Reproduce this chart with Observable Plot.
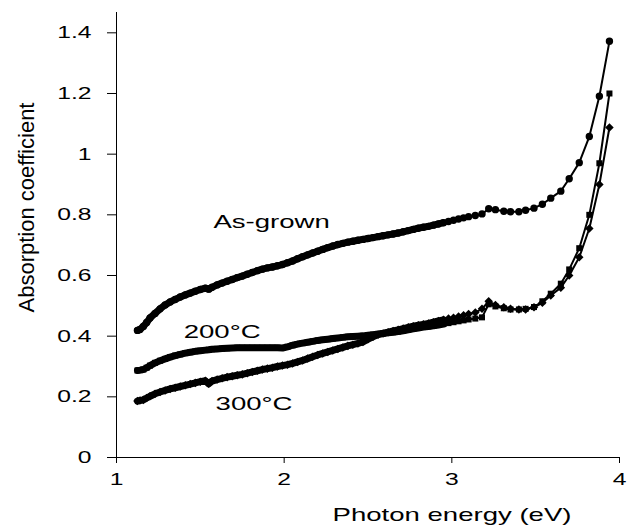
<!DOCTYPE html>
<html><head><meta charset="utf-8">
<script src="https://cdn.jsdelivr.net/npm/d3@7"></script>
<script src="https://cdn.jsdelivr.net/npm/@observablehq/plot@0.6"></script>
<style>body{margin:0;background:#fff;}</style>
</head><body><div id="chart"></div>
<script>
const energy = [1.125,1.14,1.16,1.18,1.20,1.23,1.26,1.29,1.32,1.35,1.38,1.41,1.44,1.47,1.50,1.53,1.55,1.57,1.60,1.63,1.66,1.69,1.72,1.75,1.78,1.81,1.84,1.87,1.90,1.93,1.96,1.99,2.02,2.05,2.08,2.11,2.14,2.17,2.20,2.23,2.26,2.29,2.32,2.35,2.38,2.41,2.44,2.47,2.50,2.53,2.56,2.59,2.62,2.65,2.68,2.71,2.74,2.77,2.80,2.83,2.86,2.89,2.92,2.95,2.98,3.01,3.04,3.07,3.10,3.14,3.18,3.22,3.26,3.31,3.35,3.40,3.44,3.49,3.54,3.59,3.65,3.70,3.76,3.82,3.88,3.94];
const asGrown = [.419,.422,.432,.445,.46,.475,.49,.503,.513,.521,.529,.536,.542,.548,.554,.558,.555,.561,.569,.575,.581,.587,.593,.598,.604,.61,.616,.621,.625,.628,.632,.636,.642,.648,.655,.662,.668,.674,.68,.686,.692,.697,.702,.706,.71,.713,.716,.719,.722,.725,.728,.731,.734,.737,.74,.744,.748,.752,.756,.759,.762,.766,.77,.774,.778,.782,.786,.79,.794,.798,.803,.82,.817,.812,.81,.81,.815,.822,.835,.855,.878,.919,.972,1.058,1.191,1.372];
const annealed200 = [.287,.288,.29,.296,.303,.312,.319,.325,.331,.336,.34,.344,.347,.35,.352,.354,.355,.357,.358,.359,.36,.361,.362,.362,.362,.362,.362,.362,.362,.362,.362,.361,.365,.37,.374,.377,.38,.383,.386,.388,.39,.392,.394,.396,.398,.399,.4,.401,.403,.405,.407,.409,.411,.413,.415,.418,.421,.424,.427,.43,.432,.434,.437,.44,.443,.446,.449,.452,.455,.458,.462,.505,.498,.492,.488,.488,.49,.496,.515,.54,.573,.62,.69,.80,.97,1.2];
const annealed300 = [.186,.188,.19,.196,.202,.21,.216,.221,.226,.23,.234,.238,.242,.246,.25,.253,.243,.252,.257,.261,.265,.268,.271,.274,.278,.282,.286,.29,.293,.296,.3,.303,.306,.31,.315,.32,.326,.332,.338,.343,.348,.353,.358,.363,.368,.372,.376,.381,.39,.398,.405,.409,.413,.417,.421,.425,.429,.433,.436,.439,.442,.446,.45,.454,.458,.461,.465,.469,.473,.478,.49,.515,.503,.495,.49,.488,.488,.495,.51,.534,.56,.60,.66,.755,.90,1.088];
const seriesNames = ["As-grown","200°C","300°C"];
const seriesSymbols = ["circle","square","square"];
const seriesRotate = [0, 0, 45];
const xTicks = [1,2,3,4];
const yTicks = [0,0.2,0.4,0.6,0.8,1,1.2,1.4];
const yTickLabels = ["0","0.2","0.4","0.6","0.8","1","1.2","1.4"];
const labelText = ["As-grown","200°C","300°C"];
const labelE = [1.925,1.63,1.82];
const labelA = [0.778,0.413,0.176];
const xTitle = "Photon energy (eV)";
const yTitle = "Absorption coefficient";
const denseLimit = 2.95; // energies below this: markers merge into a solid band

const rows = [];
[asGrown, annealed200, annealed300].forEach((vals, i) =>
  vals.forEach((v, j) => rows.push({series: seriesNames[i], E: energy[j], A: v})));
const dense = rows.filter(d => d.E <= denseLimit);

const dotMarks = seriesNames.map((name, i) =>
  Plot.dot(rows.filter(d => d.series === name), {
    x: "E", y: "A", symbol: () => seriesSymbols[i], rotate: seriesRotate[i],
    fill: "#000", r: i === 0 ? 3.7 : 3.4
  }));

const chart = Plot.plot({
  width: 636, height: 532,
  marginLeft: 116, marginRight: 17, marginTop: 12, marginBottom: 75,
  style: {fontFamily: "'Liberation Sans', Arial, sans-serif", fontSize: "17px", color: "#000", background: "#fff", overflow: "visible"},
  x: {domain: [1, 4]},
  y: {domain: [0, 1.467]},
  symbol: {type: "identity"},
  marks: [
    Plot.axisY({ticks: yTicks, tickFormat: d => yTickLabels[yTicks.indexOf(d)], tickSize: 9, tickPadding: 16, label: null, fontSize: 17}),
    Plot.axisX({ticks: xTicks, tickFormat: d => String(d), tickSize: 6, tickPadding: 9, label: null, fontSize: 17}),
    Plot.ruleX([1], {stroke: "#000"}),
    Plot.ruleY([0], {stroke: "#000"}),
    Plot.line(dense, {x: "E", y: "A", z: "series", stroke: "#000", strokeWidth: 7}),
    Plot.line(rows, {x: "E", y: "A", z: "series", stroke: "#000", strokeWidth: 2}),
    ...dotMarks,
    Plot.text(labelText, {x: (d, i) => labelE[i], y: (d, i) => labelA[i], text: d => d, fontSize: 19}),
    Plot.text([xTitle], {frameAnchor: "bottom", textAnchor: "middle", dx: 84, dy: 63, fontSize: 19}),
    Plot.text([yTitle], {frameAnchor: "left", textAnchor: "middle", rotate: -90, dx: -89.5, dy: -27.5, fontSize: 22, letterSpacing: -0.6})
  ]
});
document.getElementById("chart").append(chart);

// the reference's horizontal lettering is drawn wide: stretch each horizontal label
const K = 1.45;
d3.select(chart).selectAll("text").each(function() {
  if (this.textContent === yTitle) return;
  const len = this.getComputedTextLength();
  if (len > 0) {
    this.setAttribute("textLength", len * K);
    this.setAttribute("lengthAdjust", "spacingAndGlyphs");
  }
});
</script>
</body></html>
